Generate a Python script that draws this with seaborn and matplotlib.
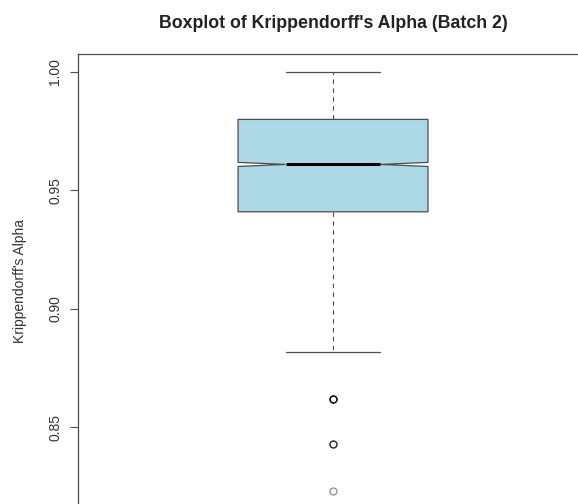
import matplotlib.pyplot as plt
import numpy as np
import pandas as pd
import seaborn as sns

# distinct alpha values and how often each occurs
alpha_values = [1.000, 0.980, 0.961, 0.941, 0.922, 0.902, 0.882, 0.862, 0.843, 0.823]
alpha_counts = [600, 1200, 1300, 1200, 500, 200, 60, 5, 3, 1]
y_ticks = [0.85, 0.90, 0.95, 1.00]
y_tick_labels = ["0.85", "0.90", "0.95", "1.00"]

df = pd.DataFrame({"alpha": np.repeat(alpha_values, alpha_counts)})

sns.set_style("white")
plt.rcParams["font.family"] = ["Liberation Sans", "DejaVu Sans"]

edge = "#4d4d4d"
fig = plt.figure(figsize=(5.78, 5.04), dpi=100)
ax = fig.add_axes([78 / 578, -4 / 504, 510 / 578, 454 / 504])
sns.boxplot(data=df, y="alpha", ax=ax, notch=True, color="lightblue", saturation=1,
            width=0.8, whis=1.52, linewidth=0.9, linecolor=edge,
            boxprops=dict(facecolor="lightblue", edgecolor=edge, linewidth=0.9),
            medianprops=dict(color="black", linewidth=2.2),
            whiskerprops=dict(color=edge, linestyle=(0, (4, 4)), linewidth=0.8),
            capprops=dict(color=edge, linewidth=0.9),
            flierprops=dict(marker="o", markersize=5, markerfacecolor="none",
                            markeredgecolor=(0, 0, 0, 0.45), markeredgewidth=0.9),
            capwidths=0.4)

ax.set_xlim(-1.074, 1.074)
ax.set_ylim(0.816, 1.0076)
ax.set_xticks([])
ax.set_xlabel("")
ax.set_yticks(y_ticks)
ax.set_yticklabels(y_tick_labels, rotation=90, va="center", fontsize=10, color="#333333")
ax.tick_params(axis="y", direction="out", length=5.5, width=0.8, color=edge, pad=6, left=True)
for s in ax.spines.values():
    s.set_color(edge)
    s.set_linewidth(0.9)

ax.set_ylabel("Krippendorff's Alpha", fontsize=10, color="#333333", labelpad=15)
ax.set_title("Boxplot of Krippendorff's Alpha (Batch 2)", fontsize=12.8, fontweight="bold",
             color="#222222", pad=19)

fig.savefig("out.png", dpi=100)
